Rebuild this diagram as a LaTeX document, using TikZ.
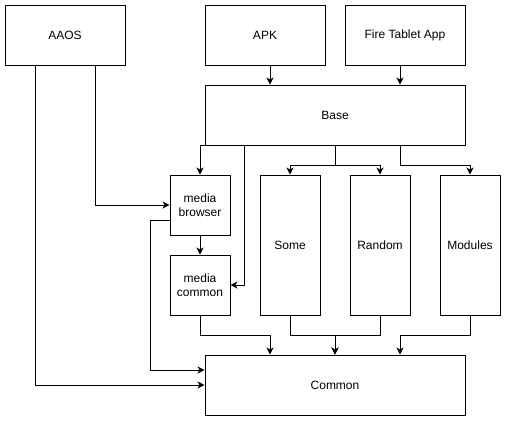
\documentclass[tikz,border=0pt]{standalone}
\usepackage{fontspec}
\setmainfont{Liberation Sans}
\usetikzlibrary{arrows.meta}
\tikzset{
    box/.style = {draw, line width=1pt, inner sep=2pt, align=center,
        font=\fontsize{12}{14}\selectfont},
    wide/.style = {box, minimum width=120pt, minimum height=60pt},
    long/.style = {box, minimum width=260pt, minimum height=60pt},
    small/.style = {box, minimum width=60pt, minimum height=60pt},
    tall/.style = {box, minimum width=60pt, minimum height=140pt},
    flow/.style = {-{Stealth[length=7pt, width=7pt, inset=2pt]}, line width=1pt}
}
\begin{document}
\begin{tikzpicture}[x=1pt, y=-1pt]
        \useasboundingbox (0, 0) rectangle (506, 421);
        % top row
        \node[wide] (aaos) at (65, 35) {AAOS};
        \node[wide] (apk) at (265, 35) {APK};
        \node[wide] (fire) at (405, 35) {Fire Tablet App};
        \node[long] (base) at (335, 115) {Base};
        % middle row
        \node[small] (browser) at (200, 205) {media\\browser};
        \node[small] (mcommon) at (200, 285) {media\\common};
        \node[tall] (some) at (290, 245) {Some};
        \node[tall] (random) at (380, 245) {Random};
        \node[tall] (modules) at (470, 245) {Modules};
        \node[long] (common) at (335, 385) {Common};
        % connectors
        \draw[flow] ([xshift=5pt]apk.south) -- ([xshift=5pt]apk.south |- base.north);
        \draw[flow] ([xshift=-5pt]fire.south) -- ([xshift=-5pt]fire.south |- base.north);
        \draw[flow] (base.south west) -| (browser.north);
        \draw[flow] ([xshift=40pt]base.south west) |- (mcommon.east);
        \draw[flow] (base.south) -- ++(0, 20) -| (some.north);
        \draw[flow] (base.south) -- ++(0, 20) -| (random.north);
        \draw[flow] ([xshift=65pt]base.south) -- ++(0, 20) -| (modules.north);
        \draw[flow] ([xshift=30pt]aaos.south) |- (browser.west);
        \draw[flow] ([xshift=-30pt]aaos.south) |- (common.west);
        \draw[flow] (browser.south) -- (mcommon.north);
        \draw[flow] ([yshift=-15pt]browser.west) -- ++(-19, 0) |- ([yshift=15pt]common.west);
        \draw[flow] (mcommon.south) -- ++(0, 20) -| ([xshift=-65pt]common.north);
        \draw[flow] (some.south) -- ++(0, 20) -| (common.north);
        \draw[flow] (random.south) -- ++(0, 20) -| (common.north);
        \draw[flow] (modules.south) -- ++(0, 20) -| ([xshift=65pt]common.north);
    \end{tikzpicture}
\end{document}
